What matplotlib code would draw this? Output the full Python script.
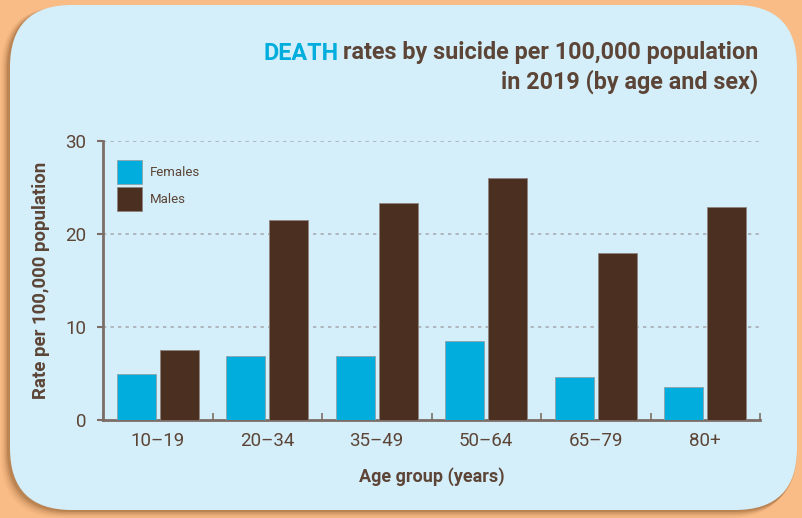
import numpy as np
import matplotlib.pyplot as plt
from matplotlib.patches import FancyBboxPatch

age_groups = ['10–19', '20–34', '35–49', '50–64', '65–79', '80+']
females = [5.0, 6.9, 6.9, 8.5, 4.6, 3.5]
males = [7.5, 21.5, 23.3, 26.0, 18.0, 22.9]

orange = '#F9BC86'
panel = '#D4EEFA'
cyan = '#00ADDD'
brown = '#4B3022'
text_col = '#5C4536'
axis_col = '#7C6E66'

plt.rcParams['font.family'] = ['Roboto', 'DejaVu Sans']

fig = plt.figure(figsize=(8.02, 5.18), dpi=100, facecolor=orange)

# background card in pixel coordinates
bg = fig.add_axes([0, 0, 1, 1])
bg.set_xlim(0, 802)
bg.set_ylim(518, 0)
bg.axis('off')
for i, a in enumerate([0.18, 0.13, 0.09, 0.06, 0.04]):
    bg.add_patch(FancyBboxPatch((7 - i * 1.5, 7), 790, 505 + i * 1.5,
                                boxstyle='round,pad=0,rounding_size=62',
                                fc='#6B3A10', ec='none', alpha=a))
bg.add_patch(FancyBboxPatch((10, 5), 787, 505,
                            boxstyle='round,pad=0,rounding_size=62',
                            fc=panel, ec='none'))

ax = fig.add_axes([103 / 802, 1 - 420 / 518, 657 / 802, 279 / 518])
ax.set_facecolor('none')

x = np.arange(len(age_groups))
w = 0.36
ax.bar(x - 0.196, females, w, color=cyan, edgecolor='#8FA3AA', linewidth=0.6,
       label='Females', zorder=3)
ax.bar(x + 0.196, males, w, color=brown, edgecolor='#8F8580', linewidth=0.6,
       label='Males', zorder=3)

ax.set_xlim(-0.5, len(age_groups) - 0.5)
ax.set_ylim(0, 30)
ax.set_yticks([0, 10, 20, 30])
ax.set_xticks(x)
ax.set_xticklabels(age_groups)
ax.set_xticks(np.arange(-0.5, len(age_groups)), minor=True)

for y in [10, 20, 30]:
    ax.axhline(y, color='#A8AEB2', lw=1.2, ls=(0, (2, 2.5)), zorder=1)

for s in ['top', 'right']:
    ax.spines[s].set_visible(False)
for s in ['left', 'bottom']:
    ax.spines[s].set_color(axis_col)
    ax.spines[s].set_linewidth(2)

ax.tick_params(axis='y', length=4, width=1.5, color=axis_col, labelsize=13.5,
               labelcolor=text_col, pad=8)
ax.tick_params(axis='x', which='major', length=0, labelsize=13.5,
               labelcolor=text_col, pad=9)
ax.tick_params(axis='x', which='minor', direction='in', length=5, width=1.2,
               color=axis_col)

ax.set_ylabel('Rate per 100,000 population', fontsize=13.4, fontweight='bold',
              color=text_col, labelpad=11)
ax.set_xlabel('Age group (years)', fontsize=13, fontweight='bold',
              color=text_col, labelpad=12)

ax.legend(loc='upper left', bbox_to_anchor=(0.021, 0.932), frameon=False,
          fontsize=9.5, labelcolor=text_col, handlelength=1.9,
          handleheight=2.45, handletextpad=0.6, labelspacing=0.23,
          borderaxespad=0, borderpad=0)

# two-part title, right-aligned
fig.text(758 / 802, 1 - 53 / 518, 'rates by suicide per 100,000 population',
         ha='right', va='center', fontsize=16.8, fontweight='bold', color=text_col)
fig.text(758 / 802, 1 - 82 / 518, 'in 2019 (by age and sex)',
         ha='right', va='center', fontsize=16.8, fontweight='bold', color=text_col)
fig.canvas.draw()
r = fig.texts[0].get_window_extent()
fig.text(r.x0 - 4, r.y0 + r.height / 2, 'DEATH', transform=None,
         ha='right', va='center', fontsize=16.8, fontweight='bold', color=cyan)

fig.savefig('out.png', dpi=100, facecolor=orange)
